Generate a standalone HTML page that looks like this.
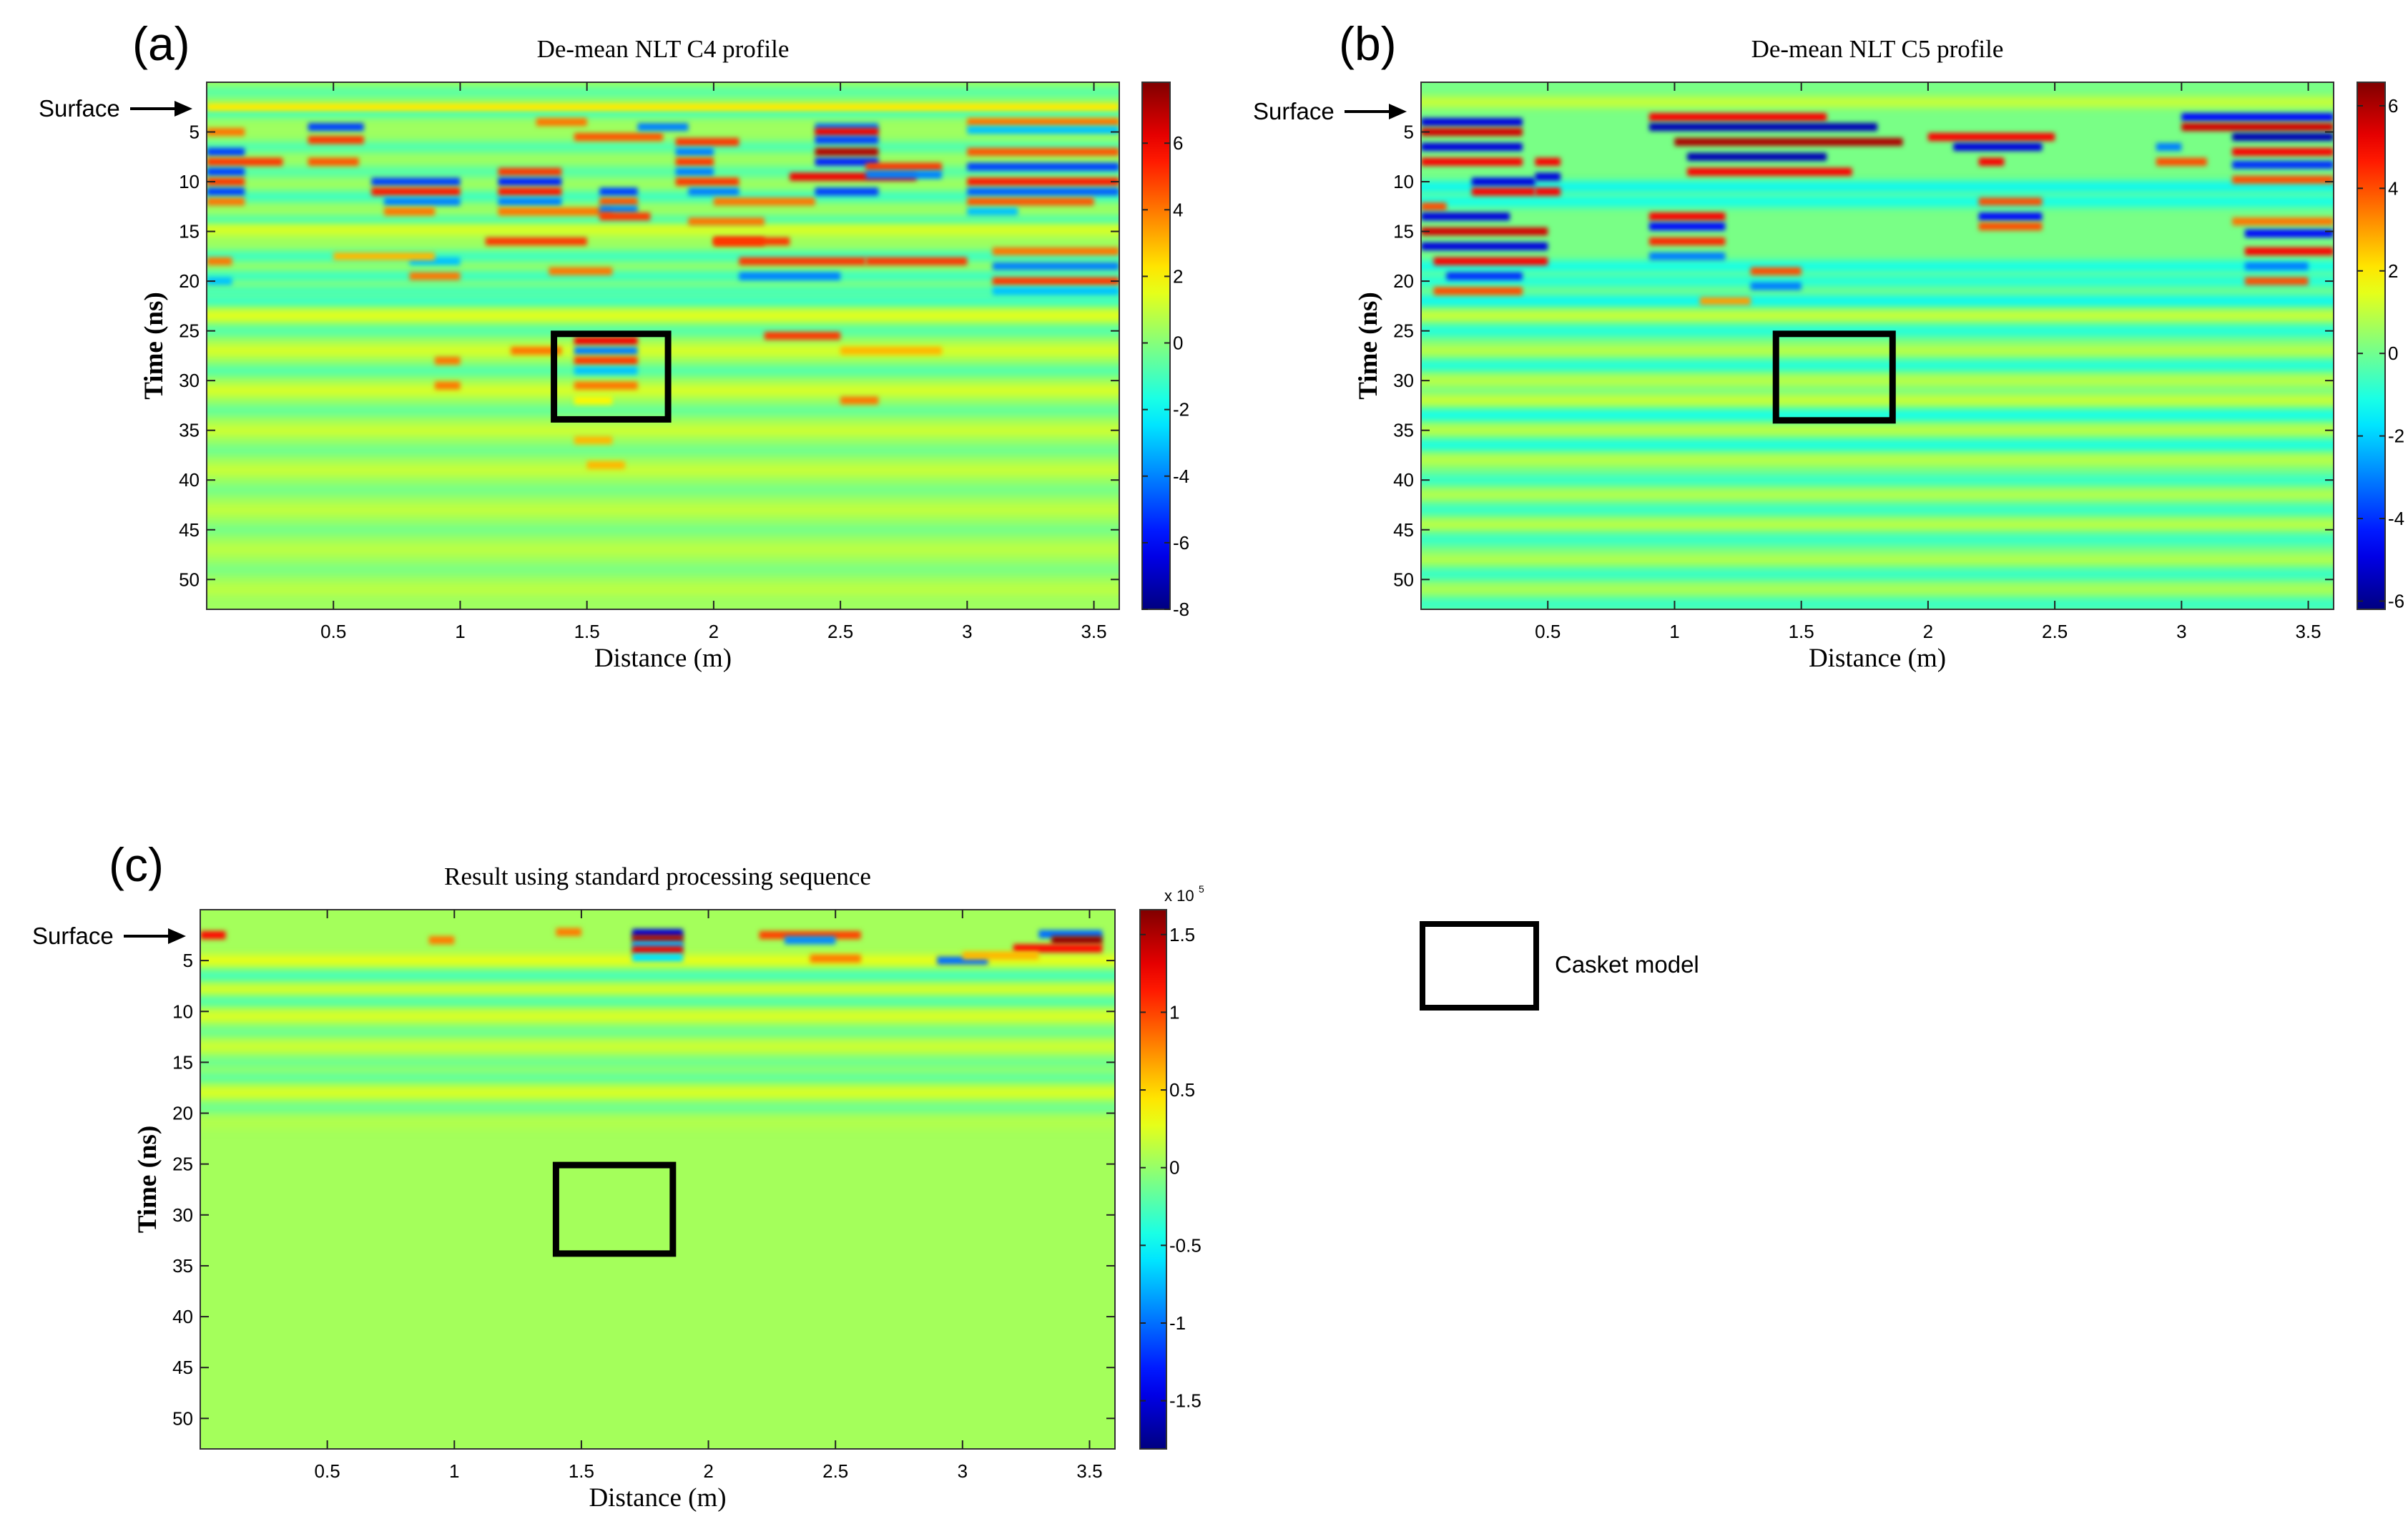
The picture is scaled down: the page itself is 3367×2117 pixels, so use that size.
<!DOCTYPE html>
<html><head><meta charset="utf-8"><style>
html,body{margin:0;padding:0;background:#fff;width:3367px;height:2117px;overflow:hidden}
canvas{position:absolute}
svg{position:absolute;left:0;top:0}
</style></head><body>
<canvas id="ca" style="left:289px;top:115px" width="1276" height="737"></canvas>
<canvas id="cb" style="left:1987px;top:115px" width="1276" height="737"></canvas>
<canvas id="cc" style="left:280px;top:1272px" width="1279" height="754"></canvas>
<svg id="svg" width="3367" height="2117"></svg>
<script>
// ---------- data ----------
const xTicks = [0.5,1,1.5,2,2.5,3,3.5];
const yTicks = [5,10,15,20,25,30,35,40,45,50];
const aCbTicks = [6,4,2,0,-2,-4,-6,-8];
const bCbTicks = [6,4,2,0,-2,-4,-6];
const cCbTicks = [1.5,1,0.5,0,-0.5,-1,-1.5];
const aStripes = [[1,-0.8],[3,-1.2],[6.5,-1],[9,-0.9],[11.5,-1.3],[14,-1.2],[14.8,1.5],[17.5,-1.3],[19.5,-1.3],[21,-1.1],[22,-1.3],[23.5,1.6],[25,-0.9],[27,1.4],[29,-0.9],[31,1.4],[33,-0.6],[35,1.2],[37,-0.4],[39,1.1],[41,-0.3],[43,1.0],[45,-0.3],[47,0.9],[49,-0.2],[51,0.9]];
const aSegs = [[0,3.6,2.5,2.2],[0.4,0.62,4.5,-5],[0.4,0.62,5.8,5],[0,0.15,5,4],[0,0.15,7,-5],[0,0.3,8,5],[0.4,0.6,8,4.5],[0,0.15,9,-5],[0,0.15,10,5],[0,0.15,11,-5],[0,0.15,12,4],
[0.65,1.0,10,-5],[0.65,1.0,11,5.5],[0.7,1.0,12,-4],[0.7,0.9,13,4],
[1.15,1.4,9,5],[1.15,1.4,10,-5.5],[1.15,1.4,11,5.5],[1.15,1.4,12,-4],[1.15,1.6,13,4],
[1.55,1.7,11,-5],[1.55,1.7,12,4.5],[1.55,1.7,12.8,-4],[1.55,1.75,13.5,5],[1.3,1.5,4,4],[1.45,1.8,5.5,4.5],[1.7,1.9,4.5,-4],
[1.85,2.1,6,5],[1.85,2.0,7,-4],[1.85,2.0,8,5],[1.85,2.0,9,-4],[1.85,2.1,10,5],[1.9,2.1,11,-4],[2.0,2.4,12,4],[1.9,2.2,14,4],[2.0,2.2,16,5],
[2.4,2.65,4.5,-4],[2.4,2.65,5,6],[2.4,2.65,5.8,-5],[2.4,2.65,7,7],[2.4,2.65,8,-5.5],[2.3,2.8,9.5,6],[2.4,2.65,11,-5],[2.6,2.9,8.5,5],[2.6,2.9,9.3,-4],
[3.0,3.6,4,4],[3.0,3.6,4.8,-3],[3.0,3.6,7,4.5],[3.0,3.6,8.5,-5],[3.0,3.6,10,5.5],[3.0,3.6,11,-4.5],[3.0,3.5,12,4.5],[3.0,3.2,13,-3],
[1.1,1.5,16,5],[0.8,1.0,18,-3],[0.8,1.0,19.5,4],[1.35,1.6,19,4],[2.0,2.3,16,5],[2.1,2.6,18,5],[2.1,2.5,19.5,-4],[2.6,3.0,18,5],[3.1,3.6,17,4],[3.1,3.6,18.5,-4],[3.1,3.6,20,5],[3.1,3.6,21,-3],[0,0.1,18,4],[0,0.1,20,-3],[0.5,0.9,17.5,3],
[2.2,2.5,25.5,5],[1.45,1.7,26,6],[1.45,1.7,27,-4],[1.45,1.7,28,5],[1.45,1.7,29,-3],[1.45,1.7,30.5,4],[1.45,1.6,32,2],[1.45,1.6,36,3],[1.5,1.65,38.5,3],[0.9,1.0,28,4],[0.9,1.0,30.5,4],[2.5,2.65,32,4],[2.5,2.9,27,3],[1.2,1.4,27,4]];
const bStripes = [[2,1.2],[10.5,-1.5],[12,-1.3],[18.5,-1.3],[20,-1.1],[22,-1.5],[23.5,1.2],[25,-1.1],[27,1.0],[28.5,-1.1],[30,1.0],[32,1.2],[33.5,-1.3],[35,1.0],[36.5,-1.2],[38,1.0],[40,-0.8],[41.5,0.9],[43,-0.8],[44.5,1.0],[46,-0.8],[48,0.9],[49.5,-0.8],[51,0.8],[52.5,-0.8]];
const bSegs = [[0,0.4,4,-5],[0,0.4,5,5.5],[0,0.4,6.5,-5],[0,0.4,8,5],[0.2,0.45,10,-5],[0.2,0.45,11,5],[0,0.1,12.5,4],[0,0.35,13.5,-5],[0,0.5,15,5.5],[0,0.5,16.5,-5],[0.05,0.5,18,5],[0.1,0.4,19.5,-4],[0.05,0.4,21,4],
[0.45,0.55,8,5],[0.45,0.55,9.5,-5],[0.45,0.55,11,5],
[0.9,1.6,3.5,5],[0.9,1.8,4.5,-5.5],[1.0,1.9,6,6],[1.05,1.6,7.5,-5.5],[1.05,1.7,9,5],
[0.9,1.2,13.5,5],[0.9,1.2,14.5,-4.5],[0.9,1.2,16,4.5],[0.9,1.2,17.5,-3],[1.3,1.5,19,4],[1.3,1.5,20.5,-3],[1.1,1.3,22,3],
[2.0,2.5,5.5,5],[2.1,2.45,6.5,-5],[2.2,2.3,8,5],[2.2,2.45,12,4],[2.2,2.45,13.5,-4.5],[2.2,2.45,14.5,4],
[3.0,3.6,3.5,-4.5],[3.0,3.6,4.5,5.5],[3.2,3.6,5.5,-5.5],[3.2,3.6,7,5],[3.2,3.6,8.3,-4],[3.2,3.6,9.8,4],[3.2,3.6,14,3.5],[3.25,3.6,15.2,-4.5],[3.25,3.6,17,5],[3.25,3.5,18.5,-3],[3.25,3.5,20,4],[2.9,3.1,8,4],[2.9,3.0,6.5,-3]];
const cStripes = [[5,0.3],[6.5,-0.3],[8,0.25],[9,-0.25],[10.5,0.25],[12,-0.15],[13.5,0.2],[15,-0.15],[16.5,-0.2],[18,0.25],[19.5,-0.15],[21,0.1]];
const cSegs = [[0,0.1,2.5,1.2],[1.7,1.9,2.3,-1.5],[1.7,1.9,2.9,1.5],[1.7,1.9,3.5,-0.8],[1.7,1.9,4.0,1.3],[1.7,1.9,4.7,-0.6],[2.2,2.6,2.5,1.0],[2.3,2.5,3.0,-0.9],[3.3,3.55,2.4,-1.0],[3.35,3.55,3.0,1.6],[3.2,3.55,3.8,1.2],[2.9,3.1,5,-1.0],[2.4,2.6,4.8,0.8],[0.9,1.0,3,0.8],[1.4,1.5,2.2,0.8],[3.0,3.3,4.5,0.6]];

// ---------- helpers ----------
function clamp(v){return Math.max(0,Math.min(1,v));}
function jet(f){f=clamp(f);const r=clamp(1.5-Math.abs(4*f-3)),g=clamp(1.5-Math.abs(4*f-2)),b=clamp(1.5-Math.abs(4*f-1));return `rgb(${Math.round(r*255)},${Math.round(g*255)},${Math.round(b*255)})`;}
function drawHeat(id,stripes,segs,vmin,vmax,bg){
  const cv=document.getElementById(id),ctx=cv.getContext('2d'),W=cv.width,H=cv.height;
  const xs=x=>x/3.6*W, ys=t=>t/53*H, col=v=>jet((v-vmin)/(vmax-vmin));
  ctx.fillStyle=col(bg);ctx.fillRect(0,0,W,H);
  ctx.filter='blur(6px)';
  stripes.forEach(s=>{ctx.fillStyle=col(s[1]);ctx.fillRect(-20,ys(s[0]-0.5),W+40,ys(1.0));});
  ctx.filter='blur(3px)';
  segs.forEach(s=>{ctx.fillStyle=col(s[3]);ctx.fillRect(xs(s[0]),ys(s[2]-0.4),xs(s[1])-xs(s[0]),ys(0.8));});
  ctx.filter='none';
}
drawHeat('ca',aStripes,aSegs,-8,7.83,0.4);
drawHeat('cb',bStripes,bSegs,-6.2,6.57,0.1);
drawHeat('cc',cStripes,cSegs,-1.81,1.66,0.05);

const NS='http://www.w3.org/2000/svg', svg=document.getElementById('svg');
function el(tag,attrs,txt){const e=document.createElementNS(NS,tag);for(const k in attrs)e.setAttribute(k,attrs[k]);if(txt!==undefined)e.textContent=txt;svg.appendChild(e);return e;}
const defs=el('defs',{});
const lg=document.createElementNS(NS,'linearGradient');lg.setAttribute('id','jet');lg.setAttribute('x1','0');lg.setAttribute('y1','1');lg.setAttribute('x2','0');lg.setAttribute('y2','0');
for(let i=0;i<=20;i++){const s=document.createElementNS(NS,'stop');s.setAttribute('offset',i/20);s.setAttribute('stop-color',jet(i/20));lg.appendChild(s);}
defs.appendChild(lg);

function panel(p){
  const {L,T,W,H,cbL,cbW,cbMin,cbMax,cbTicks,title,letter,lx,ly,box,sy}=p;
  const xs=x=>L+x/3.6*W, ys=t=>T+t/53*H;
  let r=el('rect',{x:L,y:T,width:W,height:H,fill:'none',stroke:'#333','stroke-width':2});
  
  xTicks.forEach(v=>{const x=xs(v);
    el('line',{x1:x,y1:T+H,x2:x,y2:T+H-12,stroke:'#222','stroke-width':2});
    el('line',{x1:x,y1:T,x2:x,y2:T+12,stroke:'#222','stroke-width':2});
    const t=el('text',{x:x,y:T+H+40,'font-size':26,'font-family':'Liberation Sans, sans-serif','text-anchor':'middle'},String(v));
    });
  yTicks.forEach(v=>{const y=ys(v);
    el('line',{x1:L,y1:y,x2:L+12,y2:y,stroke:'#222','stroke-width':2});
    el('line',{x1:L+W,y1:y,x2:L+W-12,y2:y,stroke:'#222','stroke-width':2});
    const t=el('text',{x:L-10,y:y+9,'font-size':26,'font-family':'Liberation Sans, sans-serif','text-anchor':'end'},String(v));
    });
  let t=el('text',{x:L+W/2,y:T+H+80,'font-size':37,'font-family':'Liberation Serif, serif','text-anchor':'middle'},'Distance (m)');
  
  const cy=T+H/2;
  t=el('text',{x:L-62,y:cy,'font-size':37,'font-weight':'bold','font-family':'Liberation Serif, serif','text-anchor':'middle',transform:`rotate(-90 ${L-62} ${cy})`},'Time (ns)');
  
  t=el('text',{x:L+W/2,y:T-35,'font-size':35,'font-family':'Liberation Serif, serif','text-anchor':'middle'},title);
  
  t=el('text',{x:lx,y:ly,'font-size':66,'font-family':'Liberation Sans, sans-serif'},letter);
  
  t=el('text',{x:L-235,y:sy+11,'font-size':33,'font-family':'Liberation Sans, sans-serif'},'Surface');
  
  el('line',{x1:L-107,y1:sy,x2:L-40,y2:sy,stroke:'#000','stroke-width':4});
  el('polygon',{points:`${L-20},${sy} ${L-45},${sy-11} ${L-45},${sy+11}`,fill:'#000'});
  r=el('rect',{x:xs(box[0]),y:ys(box[2]),width:xs(box[1])-xs(box[0]),height:ys(box[3])-ys(box[2]),fill:'none',stroke:'#000','stroke-width':9});
  
  r=el('rect',{x:cbL,y:T,width:cbW,height:H,fill:'url(#jet)',stroke:'#333','stroke-width':2});
  
  const cys=v=>T+H-(v-cbMin)/(cbMax-cbMin)*H;
  cbTicks.forEach(v=>{const y=cys(v);
    el('line',{x1:cbL,y1:y,x2:cbL+8,y2:y,stroke:'#222','stroke-width':2});
    el('line',{x1:cbL+cbW,y1:y,x2:cbL+cbW-8,y2:y,stroke:'#222','stroke-width':2});
    const tt=el('text',{x:cbL+cbW+4,y:y+9,'font-size':26,'font-family':'Liberation Sans, sans-serif'},String(v));
    });
}
panel({L:289,T:115,W:1276,H:737,cbL:1597,cbW:39,cbMin:-8,cbMax:7.83,cbTicks:aCbTicks,title:'De-mean NLT C4 profile',letter:'(a)',lx:185,ly:84,box:[1.37,1.82,25.3,33.9],sy:152});
panel({L:1987,T:115,W:1276,H:737,cbL:3296,cbW:39,cbMin:-6.2,cbMax:6.57,cbTicks:bCbTicks,title:'De-mean NLT C5 profile',letter:'(b)',lx:1872,ly:84,box:[1.4,1.86,25.3,34],sy:156});
panel({L:280,T:1272,W:1279,H:754,cbL:1594,cbW:37,cbMin:-1.81,cbMax:1.66,cbTicks:cCbTicks,title:'Result using standard processing sequence',letter:'(c)',lx:152,ly:1232,box:[1.4,1.86,25.1,33.8],sy:1309});
let ex=el('text',{x:1628,y:1260,'font-size':22,'font-family':'Liberation Sans, sans-serif'},'x 10');

el('text',{x:1676,y:1248,'font-size':14,'font-family':'Liberation Sans, sans-serif'},'5');
let lb=el('rect',{x:1989,y:1292,width:159,height:117,fill:'none',stroke:'#000','stroke-width':8});

let lt=el('text',{x:2174,y:1360,'font-size':33,'font-family':'Liberation Sans, sans-serif'},'Casket model');

</script>
</body></html>
